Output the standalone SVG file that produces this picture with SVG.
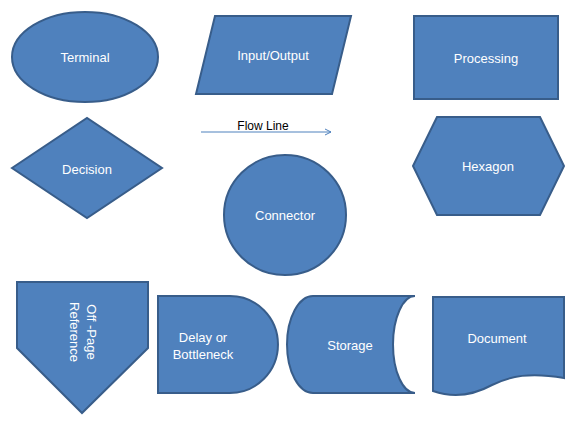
<svg xmlns="http://www.w3.org/2000/svg" width="577" height="422" viewBox="0 0 577 422">
<defs>
<style>
.s{fill:#4F81BD;stroke:#385D8A;stroke-width:2}
.t{font-family:"Liberation Sans",Arial,sans-serif;font-size:13px;fill:#FFFFFF;text-anchor:middle}
.fl{font-family:"Liberation Sans",Arial,sans-serif;font-size:12px;fill:#000000;text-anchor:middle}
</style>
<marker id="arr" markerWidth="10" markerHeight="10" refX="7" refY="4" orient="auto" markerUnits="userSpaceOnUse">
<path d="M1,1 L7,4 L1,7" fill="none" stroke="#4F81BD" stroke-width="1"/>
</marker>
</defs>
<rect width="577" height="422" fill="#FFFFFF"/>
<g id="terminal">
<ellipse class="s" cx="85" cy="57" rx="73" ry="45"/>
<text class="t" x="85" y="62">Terminal</text>
</g>
<g id="input-output">
<polygon class="s" points="215,16 351,16 332,94 196,94"/>
<text class="t" x="273" y="60">Input/Output</text>
</g>
<g id="processing">
<rect class="s" x="414" y="16" width="144" height="83"/>
<text class="t" x="486" y="63">Processing</text>
</g>
<g id="decision">
<polygon class="s" points="12,168 87,118 162,168 87,218"/>
<text class="t" x="87" y="174">Decision</text>
</g>
<g id="hexagon">
<polygon class="s" points="413,166 437,117 540,117 564,166 540,215 437,215"/>
<text class="t" x="488" y="171">Hexagon</text>
</g>
<g id="connector">
<ellipse class="s" cx="285" cy="215" rx="61" ry="60"/>
<text class="t" x="285" y="220">Connector</text>
</g>
<g id="off-page-reference">
<polygon class="s" points="17,282 148,282 148,348 82,413 17,348"/>
<text class="t" transform="translate(82,332) rotate(90)" x="0" y="-5">Off -Page</text>
<text class="t" transform="translate(82,332) rotate(90)" x="0" y="12">Reference</text>
</g>
<g id="delay">
<path class="s" d="M158,296 H230 A48,48.5 0 0 1 230,393 H158 Z"/>
<text class="t" x="203" y="342">Delay or</text>
<text class="t" x="203" y="359">Bottleneck</text>
</g>
<g id="storage">
<path class="s" d="M313,296 H415 A22,48.5 0 0 0 415,393 H313 A26,48.5 0 0 1 313,296 Z"/>
<text class="t" x="350" y="350">Storage</text>
</g>
<g id="document">
<path class="s" d="M433,297 H564 V378 C530,372 510,376 492,385 C470,397 450,397 433,391 Z"/>
<text class="t" x="497" y="343">Document</text>
</g>
<g id="connectors">
<line x1="201" y1="132" x2="331" y2="132" stroke="#4F81BD" stroke-width="1" marker-end="url(#arr)"/>
<text class="fl" x="263" y="130">Flow Line</text>
</g>
</svg>
